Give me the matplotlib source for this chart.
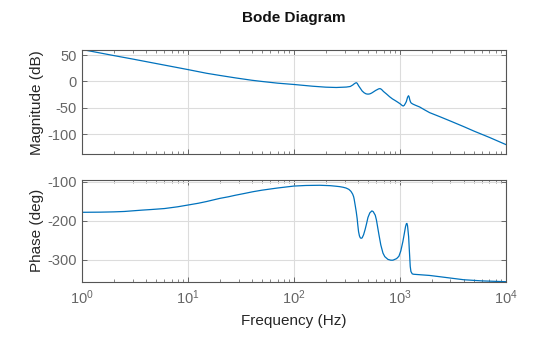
import matplotlib
matplotlib.use("Agg")
import matplotlib.pyplot as plt
import numpy as np

# values
freq_mag = [1, 2, 3, 5, 10, 15, 20, 28, 40, 50, 70, 100, 150, 200, 251, 312,
            340, 360, 370, 380, 388, 395, 410, 420, 440, 460, 480, 500, 520,
            540, 560, 590, 610, 630, 650, 670, 700, 750, 800, 850, 900, 950,
            1000, 1050, 1075, 1100, 1130, 1150, 1180, 1205, 1220, 1240, 1260,
            1280, 1330, 1400, 1535, 1700, 1905, 2400, 3000, 4000, 5000, 7000,
            10000]
mag_db = [60.5, 49, 42.5, 34, 22.5, 15.5, 11.4, 6.8, 2.3, 0, -3.2, -5.7, -9,
          -10.8, -11.4, -10.6, -9.5, -6.5, -4.5, -3, -2.3, -3.5, -9, -12,
          -18, -21.5, -23.5, -24, -23.5, -22, -20, -17, -15.5, -14, -13.5,
          -15, -19, -24, -29, -33, -36, -39, -42, -45.5, -46.5, -45, -41,
          -38, -30, -27, -29, -35, -39, -41, -43, -45, -48.3, -53.5, -59,
          -67, -75, -85.5, -94, -106, -119.5]

freq_ph = [1, 1.5, 2, 2.5, 3.7, 4.5, 6, 8, 10, 12.5, 15, 17, 20, 24, 28, 34,
           41, 50, 60, 70, 100, 130, 175, 220, 250, 270, 290, 310, 330, 345,
           358, 366, 370, 378, 387, 395, 400, 407, 415, 423, 431, 440, 454,
           470, 485, 499, 520, 544, 560, 585, 600, 615, 634, 660, 692, 720,
           771, 820, 859, 930, 978, 1020, 1067, 1100, 1130, 1150, 1164, 1180,
           1208, 1225, 1251, 1270, 1307, 1350, 1905, 2500, 4000, 6000, 10000]
phase_deg = [-178.6, -178.2, -177.5, -176.5, -173, -171.5, -169, -164.5,
             -160, -155.5, -151, -147.5, -143, -139, -135, -130.5, -126,
             -122, -119, -116.5, -111.5, -110, -109.5, -110.5, -112, -113,
             -114.5, -116.5, -120, -125, -132, -139, -145, -160, -177,
             -195, -210, -228, -239, -244, -245, -244, -236, -222, -207,
             -192, -180, -175, -177, -186, -198, -215, -236, -262, -283,
             -292, -299, -301, -301, -297, -291, -277, -253, -233, -215,
             -208, -207, -213, -241, -272, -317, -330, -336, -337, -340,
             -344, -351, -354, -356]

mag_ticks = [-100, -50, 0, 50]
phase_ticks = [-300, -200, -100]

plt.rcParams['font.family'] = ['Liberation Sans', 'DejaVu Sans']
plt.rcParams['mathtext.fontset'] = 'custom'
plt.rcParams['mathtext.rm'] = 'Liberation Sans'
plt.rcParams['mathtext.it'] = 'Liberation Sans'
plt.rcParams['axes.unicode_minus'] = False

line_c = '#0072BD'
tick_c = '#666666'
spine_c = '#555555'
grid_c = '#dcdcdc'

fig = plt.figure(figsize=(5.6, 3.37), dpi=100)
ax1 = fig.add_axes([0.1464, 0.542, 0.757, 0.3095])
ax2 = fig.add_axes([0.1464, 0.1641, 0.757, 0.3018])

ax1.semilogx(freq_mag, mag_db, color=line_c, lw=0.9)
ax2.semilogx(freq_ph, phase_deg, color=line_c, lw=0.9)

ax1.set_ylim(-138, 59.5)
ax2.set_ylim(-356, -96)
ax1.set_yticks(mag_ticks)
ax2.set_yticks(phase_ticks)

for ax in (ax1, ax2):
    ax.set_xlim(1, 1e4)
    ax.grid(True, which='major', color=grid_c, lw=0.8)
    ax.set_axisbelow(True)
    ax.tick_params(which='both', direction='in', top=True, right=True,
                   colors=spine_c, labelcolor=tick_c, labelsize=10.5)
    ax.tick_params(which='major', length=3.5, width=0.6)
    ax.tick_params(which='minor', length=2, width=0.5)
    for s in ax.spines.values():
        s.set_color(spine_c)
        s.set_linewidth(0.8)

ax1.tick_params(labelbottom=False)
ax2.tick_params(axis='x', pad=5)

ax1.set_ylabel('Magnitude (dB)', fontsize=11, color='#262626')
ax2.set_ylabel('Phase (deg)', fontsize=11, color='#262626')
ax1.yaxis.set_label_coords(-0.09, 0.5)
ax2.yaxis.set_label_coords(-0.09, 0.5)
ax2.set_xlabel('Frequency (Hz)', fontsize=11, color='#262626', labelpad=5)

fig.text(0.525, 1 - 18 / 337, 'Bode Diagram', ha='center', va='center',
         fontsize=11, fontweight='bold', color='#111111')

fig.savefig('out.png', dpi=100)
